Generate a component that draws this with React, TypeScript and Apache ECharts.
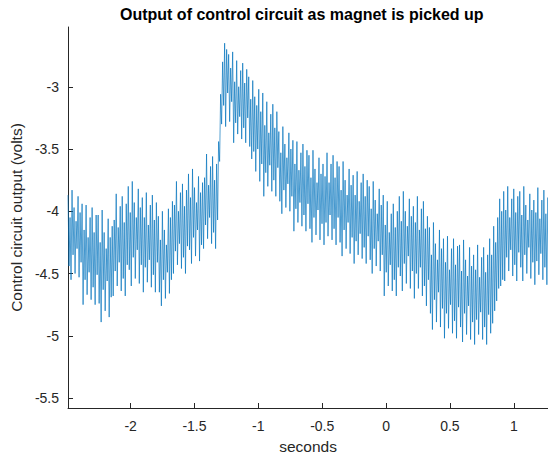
import React, { useEffect, useRef } from "react";
import * as echarts from "echarts";

const titleText = "Output of control circuit as magnet is picked up";
const xName = "seconds";
const yName = "Control circuit output (volts)";

const tStart = -2.49;
const tStep = 0.00786;
const xMin = -2.49;
const xMax = 1.268;
const yMin = -5.58;
const yMax = -2.52;
const xTicks = [-2, -1.5, -1, -0.5, 0, 0.5, 1];
const yTicks = [-5.5, -5, -4.5, -4, -3.5, -3];

// Control circuit output (volts), sampled every tStep seconds from tStart
const volts = [
  -3.87, -4.44, -4.05, -4.55, -3.83, -4.35, -3.97, -4.50, -4.08, -4.30, -3.88, -4.53, -4.01, -4.41, -3.94,
  -4.75, -4.15, -4.55, -3.95, -4.67, -4.21, -4.49, -4.05, -4.71, -3.97, -4.61, -4.17, -4.75, -4.03, -4.51,
  -4.03, -4.74, -4.25, -4.89, -3.99, -4.63, -4.17, -4.80, -4.30, -4.56, -4.06, -4.85, -4.21, -4.69, -4.12,
  -4.68, -4.07, -4.48, -3.86, -4.60, -4.13, -4.41, -3.96, -4.64, -3.88, -4.54, -4.09, -4.68, -3.94, -4.43,
  -3.80, -4.47, -4.01, -4.60, -3.76, -4.37, -3.93, -4.54, -4.05, -4.31, -3.82, -4.58, -3.97, -4.43, -3.89,
  -4.65, -4.05, -4.45, -3.85, -4.57, -4.11, -4.39, -3.95, -4.61, -3.87, -4.51, -4.07, -4.65, -3.93, -4.41,
  -4.04, -4.65, -4.23, -4.76, -4.00, -4.55, -4.15, -4.70, -4.27, -4.49, -3.98, -4.66, -4.05, -4.55, -3.92,
  -4.50, -3.95, -4.32, -3.76, -4.43, -4.00, -4.26, -3.85, -4.46, -3.78, -4.37, -3.96, -4.50, -3.83, -4.28,
  -3.70, -4.31, -3.89, -4.42, -3.66, -4.21, -3.81, -4.36, -3.93, -4.15, -3.72, -4.40, -3.85, -4.27, -3.77,
  -4.30, -3.73, -4.11, -3.54, -4.22, -3.79, -4.05, -3.64, -4.26, -3.56, -4.17, -3.75, -4.30, -3.62, -4.07,
  -3.44, -3.60, -3.06, -3.30, -2.80, -3.15, -2.65, -3.32, -2.70, -3.05, -2.74, -3.28, -2.85, -3.12, -2.72,
  -3.45, -2.96, -3.29, -2.79, -3.38, -3.00, -3.24, -2.87, -3.42, -2.81, -3.33, -2.97, -3.45, -2.86, -3.25,
  -2.92, -3.48, -3.10, -3.58, -2.95, -3.52, -3.08, -3.68, -3.15, -3.50, -3.02, -3.76, -3.20, -3.62, -3.05,
  -3.88, -3.31, -3.69, -3.12, -3.80, -3.37, -3.63, -3.22, -3.84, -3.14, -3.75, -3.33, -3.88, -3.20, -3.65,
  -3.36, -3.92, -3.53, -4.02, -3.32, -3.83, -3.46, -3.97, -3.57, -3.78, -3.37, -4.00, -3.50, -3.88, -3.43,
  -4.16, -3.62, -3.98, -3.44, -4.09, -3.67, -3.93, -3.53, -4.12, -3.46, -4.03, -3.64, -4.16, -3.51, -3.94,
  -3.55, -4.14, -3.73, -4.25, -3.51, -4.05, -3.66, -4.19, -3.77, -3.99, -3.57, -4.23, -3.70, -4.10, -3.62,
  -4.27, -3.72, -4.09, -3.53, -4.20, -3.77, -4.03, -3.62, -4.23, -3.55, -4.14, -3.73, -4.27, -3.60, -4.05,
  -3.64, -4.25, -3.83, -4.36, -3.60, -4.15, -3.75, -4.30, -3.87, -4.09, -3.66, -4.34, -3.79, -4.21, -3.71,
  -4.42, -3.87, -4.24, -3.68, -4.35, -3.92, -4.18, -3.77, -4.38, -3.70, -4.29, -3.88, -4.42, -3.75, -4.20,
  -3.80, -4.39, -3.98, -4.50, -3.76, -4.30, -3.91, -4.44, -4.02, -4.24, -3.82, -4.48, -3.95, -4.35, -3.87,
  -4.68, -4.11, -4.49, -3.92, -4.60, -4.17, -4.43, -4.02, -4.64, -3.94, -4.55, -4.13, -4.68, -4.00, -4.45,
  -3.88, -4.52, -4.08, -4.64, -3.84, -4.42, -4.00, -4.58, -4.12, -4.36, -3.90, -4.62, -4.04, -4.48, -3.96,
  -4.70, -4.09, -4.50, -3.88, -4.62, -4.15, -4.45, -3.98, -4.68, -3.92, -4.60, -4.14, -4.76, -4.04, -4.55,
  -4.13, -4.82, -4.35, -4.95, -4.09, -4.71, -4.26, -4.89, -4.39, -4.65, -4.15, -4.93, -4.30, -4.78, -4.22,
  -5.02, -4.41, -4.82, -4.20, -4.94, -4.47, -4.75, -4.30, -4.98, -4.22, -4.88, -4.43, -5.02, -4.28, -4.77,
  -4.27, -4.93, -4.48, -5.05, -4.23, -4.82, -4.39, -4.99, -4.52, -4.76, -4.29, -5.03, -4.44, -4.89, -4.35,
  -5.07, -4.47, -4.87, -4.27, -4.99, -4.53, -4.81, -4.37, -5.03, -4.29, -4.93, -4.49, -5.07, -4.35, -4.83,
  -4.22, -4.98, -4.35, -4.90, -4.12, -4.80, -4.25, -4.72, -4.05, -4.62, -3.90, -4.60, -4.00, -4.55, -3.84,
  -4.56, -3.99, -4.37, -3.80, -4.48, -4.05, -4.31, -3.90, -4.52, -3.82, -4.43, -4.01, -4.56, -3.88, -4.33,
  -3.84, -4.45, -4.03, -4.56, -3.80, -4.35, -3.95, -4.50, -4.07, -4.29, -3.86, -4.54, -3.99, -4.41, -3.91,
  -4.59, -4.01, -4.40, -3.81, -4.51, -4.06, -4.34, -3.91, -4.55, -3.83, -4.45, -4.02, -4.59, -3.89, -4.36,
];

const FONT = "'Liberation Sans', Arial, Helvetica, sans-serif";
const AXIS_COLOR = "#262626";

export default function App() {
  const ref = useRef<HTMLDivElement>(null);

  useEffect(() => {
    if (!ref.current) return;
    const chart = echarts.init(ref.current, undefined, { renderer: "svg" });
    const data = volts.map((v, i) => [tStart + i * tStep, v]);
    const axisLine = { show: true, onZero: false, lineStyle: { color: AXIS_COLOR, width: 1 } };
    const tickBase = { show: true, inside: true, length: 5, lineStyle: { color: AXIS_COLOR } };
    const nameTextStyle = { color: AXIS_COLOR, fontSize: 15.5, fontFamily: FONT };
    chart.setOption({
      animation: false,
      backgroundColor: "#ffffff",
      textStyle: { fontFamily: FONT },
      title: {
        text: titleText,
        left: 115,
        top: 1,
        textStyle: { fontSize: 16, fontWeight: "bold", color: "#000000", fontFamily: FONT },
      },
      grid: { left: 67, right: 0, top: 27, bottom: 50, containLabel: false },
      xAxis: {
        type: "value",
        min: xMin,
        max: xMax,
        name: xName,
        nameLocation: "middle",
        nameGap: 30,
        nameTextStyle,
        axisLine,
        axisTick: { ...tickBase, customValues: xTicks },
        splitLine: { show: false },
        axisLabel: {
          customValues: xTicks,
          color: AXIS_COLOR,
          fontSize: 14,
          margin: 11,
          fontFamily: FONT,
        },
      },
      yAxis: {
        type: "value",
        min: yMin,
        max: yMax,
        name: yName,
        nameLocation: "middle",
        nameRotate: 90,
        nameGap: 31,
        nameTextStyle,
        axisLine,
        axisTick: { ...tickBase, customValues: yTicks },
        splitLine: { show: false },
        axisLabel: {
          customValues: yTicks,
          color: AXIS_COLOR,
          fontSize: 14,
          margin: 9,
          fontFamily: FONT,
        },
      },
      series: [
        {
          type: "line",
          data,
          showSymbol: false,
          symbol: "none",
          clip: true,
          lineStyle: { color: "#0072BD", width: 0.85, opacity: 0.8 },
        },
      ],
    });
    return () => chart.dispose();
  }, []);

  return (
    <div
      ref={ref}
      style={{ position: "fixed", left: 0, top: 0, width: 548, height: 459 }}
    />
  );
}
